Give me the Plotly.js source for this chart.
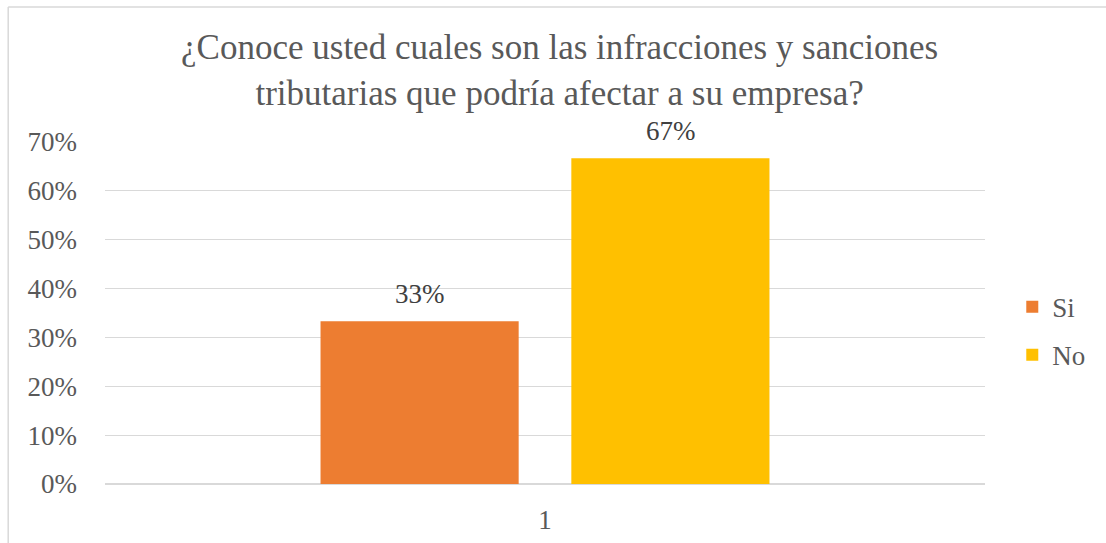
<!DOCTYPE html>
<html>
<head>
<meta charset="utf-8">
<script src="https://cdn.plot.ly/plotly-3.0.1.min.js"></script>
<style>html,body{margin:0;padding:0;background:#fff;}#chart{width:1106px;height:543px;}</style>
</head>
<body>
<div id="chart"></div>
<script>
const categories = ['1'];
const seriesNames = ['Si', 'No'];
const siValues = [0.3333];
const noValues = [0.6667];
const siLabels = ['33%'];
const noLabels = ['67%'];
const seriesColors = ['#ED7D31', '#FFC000'];

const FONT = '"Times New Roman", "Liberation Serif", serif';
const GREY = '#595959';
const LABEL = '#404040';

const traces = [
  {type: 'bar', name: seriesNames[0], x: categories, y: siValues,
   legendgroup: 'a', marker: {color: seriesColors[0]}, hoverinfo: 'none'},
  {type: 'bar', name: seriesNames[1], x: categories, y: noValues,
   legendgroup: 'b', marker: {color: seriesColors[1]}, hoverinfo: 'none'}
];

// annotation x uses the category index of each value
const labelAnn = (vals, labels, shift) => vals.map((v, i) => ({
  x: i, y: v, xref: 'x', yref: 'y', text: labels[i], showarrow: false,
  xshift: shift, yshift: 10, yanchor: 'bottom', xanchor: 'center',
  font: {family: FONT, size: 27, color: LABEL}
}));

const layout = {
  width: 1106, height: 543,
  margin: {l: 105, r: 121, t: 142, b: 59},
  paper_bgcolor: '#fff', plot_bgcolor: '#fff',
  font: {family: FONT, color: GREY, size: 27},
  title: {text: '¿Conoce usted cuales son las infracciones y sanciones<br>tributarias que podría afectar a su empresa?',
    font: {family: FONT, size: 35, color: GREY}, x: 0.506, xanchor: 'center',
    xref: 'container', yref: 'container', y: 0.891, yanchor: 'middle'},
  barmode: 'group', bargap: 0.43, bargroupgap: 0.21,
  xaxis: {type: 'category', showgrid: false, zeroline: false, showline: false,
    tickfont: {family: FONT, size: 27, color: GREY}, ticks: '', ticklabelstandoff: 17},
  yaxis: {range: [0, 0.7], dtick: 0.1, tickformat: '.0%', showgrid: true, gridcolor: '#d9d9d9', gridwidth: 1,
    zeroline: true, zerolinecolor: '#d9d9d9', zerolinewidth: 1.5, showline: false, ticks: '',
    tickfont: {family: FONT, size: 27, color: GREY}, ticklabelstandoff: 27},
  showlegend: true,
  legend: {x: 1.031, xanchor: 'left', y: 0.447, yanchor: 'middle', tracegroupgap: 10,
    font: {family: FONT, size: 27, color: GREY}, bgcolor: 'rgba(0,0,0,0)'},
  annotations: labelAnn(siValues, siLabels, -125.5).concat(labelAnn(noValues, noLabels, 125.5)),
  shapes: [
    {type: 'line', xref: 'paper', yref: 'paper', x0: -0.110, x1: -0.110, y0: -0.3, y1: 1.395, line: {color: '#d9d9d9', width: 1.5}},
    {type: 'line', xref: 'paper', yref: 'paper', x0: -0.110, x1: 1.2, y0: 1.395, y1: 1.395, line: {color: '#d9d9d9', width: 1.5}}
  ]
};

Plotly.newPlot('chart', traces, layout, {displayModeBar: false, staticPlot: true});
</script>
</body>
</html>
